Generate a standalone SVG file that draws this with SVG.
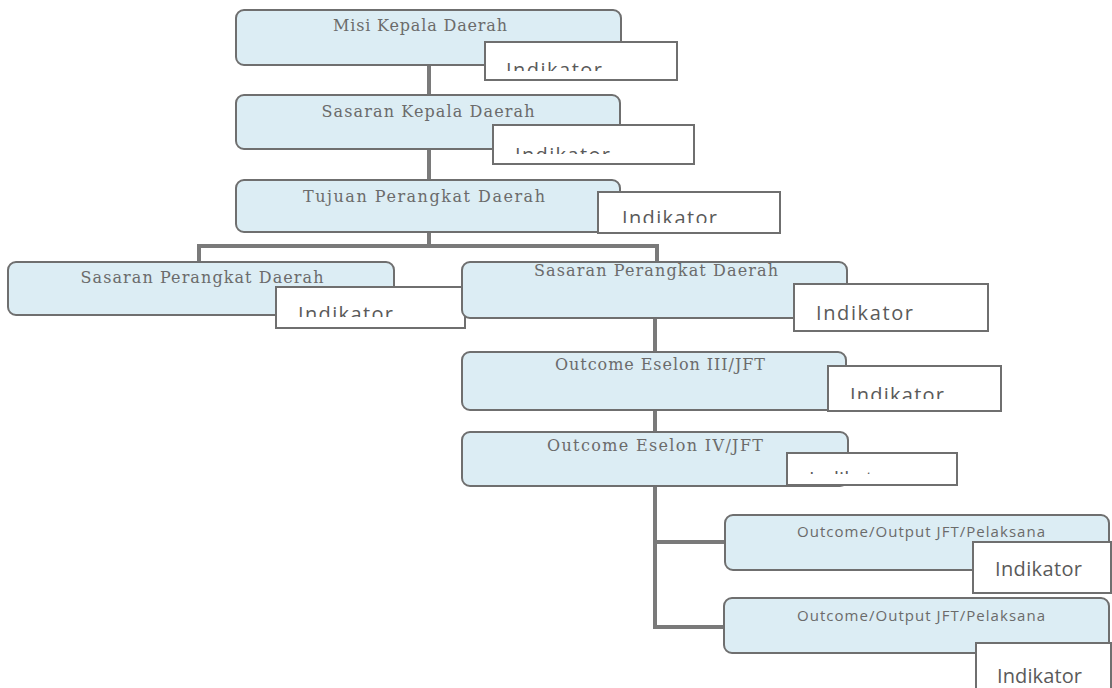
<svg xmlns="http://www.w3.org/2000/svg" width="1112" height="688" viewBox="0 0 1112 688">
  <style>
    .box { fill: #dcedf4; stroke: #6f6f6f; stroke-width: 2; }
    .ind { fill: #ffffff; stroke: #6f6f6f; stroke-width: 2; }
    .lbl { font-family: "DejaVu Serif", "Liberation Serif", serif; font-size: 16px; fill: #6b6b6b; text-anchor: middle; }
    .lbl-sans { font-family: "Open Sans", "Liberation Sans", sans-serif; font-size: 15px; fill: #6b6b6b; text-anchor: middle; }
    .itxt { font-family: "Open Sans", "Liberation Sans", sans-serif; font-size: 20px; fill: #5a5a5a; }
    .conn { stroke: #7a7a7a; stroke-width: 4; fill: none; stroke-linecap: square; }
  </style>
  <defs>
    <clipPath id="c-misi"><rect x="486" y="43" width="190" height="28"/></clipPath>
    <clipPath id="c-skd"><rect x="494" y="126" width="199" height="28"/></clipPath>
    <clipPath id="c-tpd"><rect x="599" y="193" width="180" height="30"/></clipPath>
    <clipPath id="c-spd1"><rect x="277" y="288" width="187" height="29"/></clipPath>
    <clipPath id="c-es3"><rect x="829" y="367" width="171" height="32"/></clipPath>
    <clipPath id="c-es4"><rect x="788" y="471" width="168" height="3"/></clipPath>
  </defs>
  <rect width="1112" height="688" fill="#ffffff"/>

  <!-- connectors -->
  <g id="connectors" class="conn">
    <line x1="429" y1="65" x2="429" y2="95"/>
    <line x1="429" y1="149" x2="429" y2="180"/>
    <line x1="429" y1="232" x2="429" y2="246"/>
    <polyline points="199,262 199,246 657,246 657,262"/>
    <line x1="655" y1="318" x2="655" y2="352"/>
    <line x1="655" y1="410" x2="655" y2="432"/>
    <polyline points="655,486 655,627 724,627"/>
    <line x1="655" y1="542" x2="725" y2="542"/>
  </g>

  <g id="misi-kepala-daerah">
    <rect class="box" x="236" y="10" width="385" height="55" rx="8"/>
    <text class="lbl" x="420" y="31" textLength="174">Misi Kepala Daerah</text>
    <rect class="ind" x="485" y="42" width="192" height="38"/>
    <text class="itxt" x="506" y="77" textLength="96" clip-path="url(#c-misi)">Indikator</text>
  </g>

  <g id="sasaran-kepala-daerah">
    <rect class="box" x="236" y="95" width="384" height="54" rx="8"/>
    <text class="lbl" x="428" y="117" textLength="213">Sasaran Kepala Daerah</text>
    <rect class="ind" x="493" y="125" width="201" height="39"/>
    <text class="itxt" x="515" y="162" textLength="95" clip-path="url(#c-skd)">Indikator</text>
  </g>

  <g id="tujuan-perangkat-daerah">
    <rect class="box" x="236" y="180" width="384" height="52" rx="8"/>
    <text class="lbl" x="424" y="202" textLength="242">Tujuan Perangkat Daerah</text>
    <rect class="ind" x="598" y="192" width="182" height="41"/>
    <text class="itxt" x="622" y="225" textLength="95" clip-path="url(#c-tpd)">Indikator</text>
  </g>

  <g id="sasaran-perangkat-daerah-1">
    <rect class="box" x="8" y="262" width="386" height="53" rx="8"/>
    <text class="lbl" x="202" y="283" textLength="243">Sasaran Perangkat Daerah</text>
    <rect class="ind" x="276" y="287" width="189" height="41"/>
    <text class="itxt" x="298" y="321" textLength="95" clip-path="url(#c-spd1)">Indikator</text>
  </g>

  <g id="sasaran-perangkat-daerah-2">
    <rect class="box" x="462" y="262" width="385" height="56" rx="8"/>
    <text class="lbl" x="656" y="276" textLength="244">Sasaran Perangkat Daerah</text>
    <rect class="ind" x="794" y="284" width="194" height="47"/>
    <text class="itxt" x="816" y="320" textLength="97">Indikator</text>
  </g>

  <g id="outcome-eselon-iii">
    <rect class="box" x="462" y="352" width="384" height="58" rx="8"/>
    <text class="lbl" x="660" y="370" textLength="210">Outcome Eselon III/JFT</text>
    <rect class="ind" x="828" y="366" width="173" height="45"/>
    <text class="itxt" x="850" y="402" textLength="94" clip-path="url(#c-es3)">Indikator</text>
  </g>

  <g id="outcome-eselon-iv">
    <rect class="box" x="462" y="432" width="386" height="54" rx="8"/>
    <text class="lbl" x="655" y="451" textLength="216">Outcome Eselon IV/JFT</text>
    <rect class="ind" x="787" y="453" width="170" height="32"/>
    <text class="itxt" x="809" y="486" clip-path="url(#c-es4)">Indikator</text>
  </g>

  <g id="outcome-output-jft-1">
    <rect class="box" x="725" y="515" width="384" height="55" rx="8"/>
    <text class="lbl-sans" x="921" y="537" textLength="248">Outcome/Output JFT/Pelaksana</text>
    <rect class="ind" x="973" y="542" width="138" height="51"/>
    <text class="itxt" x="995" y="576" textLength="87">Indikator</text>
  </g>

  <g id="outcome-output-jft-2">
    <rect class="box" x="724" y="598" width="385" height="55" rx="8"/>
    <text class="lbl-sans" x="921" y="621" textLength="248">Outcome/Output JFT/Pelaksana</text>
    <rect class="ind" x="976" y="643" width="135" height="50"/>
    <text class="itxt" x="997" y="683" textLength="85">Indikator</text>
  </g>
</svg>
